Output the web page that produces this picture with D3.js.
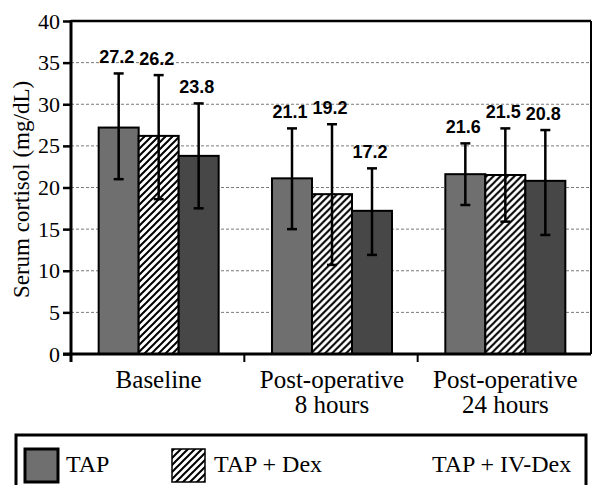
<!DOCTYPE html>
<html>
<head>
<meta charset="utf-8">
<title>Serum cortisol</title>
<script src="https://cdnjs.cloudflare.com/ajax/libs/d3/7.8.5/d3.min.js"></script>
<style>
  body { margin: 0; background: #fff; }
  svg { display: block; }
</style>
</head>
<body>
<svg id="chart" width="594" height="485"></svg>
<script>
// data
var categories = [["Baseline"], ["Post-operative", "8 hours"], ["Post-operative", "24 hours"]];
var series = ["TAP", "TAP + Dex", "TAP + IV-Dex"];
var tapMean = [27.2, 21.1, 21.6];
var dexMean = [26.2, 19.2, 21.5];
var ivMean  = [23.8, 17.2, 20.8];
var tapHi = [33.7, 27.1, 25.3], tapLo = [21.0, 15.0, 17.9];
var dexHi = [33.5, 27.6, 27.1], dexLo = [18.6, 10.7, 15.9];
var ivHi  = [30.1, 22.3, 26.9], ivLo  = [17.5, 11.9, 14.3];
var yTicks = [0, 5, 10, 15, 20, 25, 30, 35, 40];

var means = [tapMean, dexMean, ivMean];
var his = [tapHi, dexHi, ivHi];
var los = [tapLo, dexLo, ivLo];

var svg = d3.select("#chart");
var pLeft = 71, pRight = 591, pTop = 21, pBottom = 354;
var serif = "Liberation Serif, Times New Roman, serif";
var sans = "Liberation Sans, Arial, sans-serif";

// hatch pattern
var defs = svg.append("defs");
var pat = defs.append("pattern")
    .attr("id", "hatch")
    .attr("patternUnits", "userSpaceOnUse")
    .attr("width", 7).attr("height", 7);
pat.append("rect").attr("width", 7).attr("height", 7).attr("fill", "#fff");
pat.append("path")
    .attr("d", "M-1,1 l2,-2 M0,7 l7,-7 M6,8 l2,-2")
    .attr("stroke", "#000").attr("stroke-width", 2);

var fills = ["#6f6f6f", "url(#hatch)", "#474747"];

var x0 = d3.scaleBand()
    .domain(d3.range(categories.length))
    .range([pLeft, pRight]);
var bw = x0.bandwidth();
var x1 = d3.scaleBand()
    .domain(d3.range(series.length))
    .range([bw / 2 - 59, bw / 2 + 61]);

var y = d3.scaleLinear().domain([0, 40]).range([pBottom, pTop]);

// grid lines
svg.append("g").selectAll("line")
  .data(yTicks.filter(function(d) { return d > 0 && d < 40; }))
  .enter().append("line")
    .attr("x1", pLeft).attr("x2", pRight)
    .attr("y1", function(d) { return y(d); })
    .attr("y2", function(d) { return y(d); })
    .attr("stroke", "#7a7a7a")
    .attr("stroke-width", 1)
    .attr("stroke-dasharray", "3,2");

// frame top / right
svg.append("line").attr("x1", pLeft).attr("x2", pRight).attr("y1", y(40)).attr("y2", y(40))
    .attr("stroke", "#000").attr("stroke-width", 2.5);
svg.append("line").attr("x1", pRight).attr("x2", pRight).attr("y1", y(40)).attr("y2", pBottom)
    .attr("stroke", "#000").attr("stroke-width", 2);

// bars
var groups = svg.append("g").selectAll("g")
  .data(categories)
  .enter().append("g")
    .attr("transform", function(d, i) { return "translate(" + x0(i) + ",0)"; });

groups.each(function(c, ci) {
  var g = d3.select(this);
  series.forEach(function(s, si) {
    var bx = x1(si), w = x1.bandwidth(), cx = bx + w / 2;
    g.append("rect")
      .attr("x", bx).attr("y", y(means[si][ci]))
      .attr("width", w).attr("height", pBottom - y(means[si][ci]))
      .attr("fill", fills[si])
      .attr("stroke", "#000").attr("stroke-width", 2);
    // error bar
    g.append("line")
      .attr("x1", cx).attr("x2", cx)
      .attr("y1", y(his[si][ci])).attr("y2", y(los[si][ci]))
      .attr("stroke", "#000").attr("stroke-width", 2.5);
    [his[si][ci], los[si][ci]].forEach(function(v) {
      g.append("line")
        .attr("x1", cx - 5).attr("x2", cx + 5)
        .attr("y1", y(v)).attr("y2", y(v))
        .attr("stroke", "#000").attr("stroke-width", 2.5);
    });
    g.append("text")
      .attr("x", cx - 2).attr("y", y(his[si][ci]) - 10)
      .attr("text-anchor", "middle")
      .attr("font-family", sans)
      .attr("font-weight", "bold")
      .attr("font-size", 18)
      .text(means[si][ci].toFixed(1));
  });
});

// y axis
var yAxis = d3.axisLeft(y).tickValues(yTicks).tickSize(8).tickPadding(3);
var ya = svg.append("g").attr("transform", "translate(" + pLeft + ",0)").call(yAxis)
    .attr("font-family", serif).attr("font-size", 22);
ya.select(".domain").remove();
ya.selectAll(".tick line").attr("stroke", "#000").attr("stroke-width", 2.5);
ya.selectAll(".tick text").attr("fill", "#000");
svg.append("line").attr("x1", pLeft).attr("x2", pLeft).attr("y1", pTop - 1).attr("y2", pBottom + 8)
    .attr("stroke", "#000").attr("stroke-width", 3);

// x axis
svg.append("line").attr("x1", pLeft - 8).attr("x2", pRight).attr("y1", pBottom).attr("y2", pBottom)
    .attr("stroke", "#000").attr("stroke-width", 3);
svg.append("g").selectAll("line")
  .data(d3.range(1, categories.length))
  .enter().append("line")
    .attr("x1", function(i) { return x0(i); })
    .attr("x2", function(i) { return x0(i); })
    .attr("y1", pBottom).attr("y2", pBottom + 8)
    .attr("stroke", "#000").attr("stroke-width", 2);

var xl = svg.append("g").selectAll("text")
  .data(categories)
  .enter().append("text")
    .attr("text-anchor", "middle")
    .attr("font-family", serif)
    .attr("font-size", 25);
xl.each(function(lines, i) {
  var t = d3.select(this);
  lines.forEach(function(l, k) {
    t.append("tspan")
      .attr("x", x0(i) + bw / 2 + 1)
      .attr("y", 388 + k * 25)
      .text(l);
  });
});

// y title
svg.append("text")
    .attr("transform", "translate(29," + ((pTop + pBottom) / 2 + 2) + ") rotate(-90)")
    .attr("text-anchor", "middle")
    .attr("font-family", serif)
    .attr("font-size", 23)
    .text("Serum cortisol (mg/dL)");

// legend
var lg = svg.append("g");
lg.append("path")
    .attr("d", "M16,490 V435 H586 V490")
    .attr("fill", "none").attr("stroke", "#000").attr("stroke-width", 3);
var legX = [25, 172, null];
var legTextX = [66, 214, 432];
series.forEach(function(s, si) {
  if (legX[si] !== null) {
    lg.append("rect")
      .attr("x", legX[si]).attr("y", 449)
      .attr("width", 33).attr("height", 33)
      .attr("fill", fills[si])
      .attr("stroke", "#000").attr("stroke-width", si === 0 ? 3 : 1.5);
  }
  lg.append("text")
    .attr("x", legTextX[si]).attr("y", 472)
    .attr("font-family", serif)
    .attr("font-size", 24)
    .text(s);
});
</script>
</body>
</html>
